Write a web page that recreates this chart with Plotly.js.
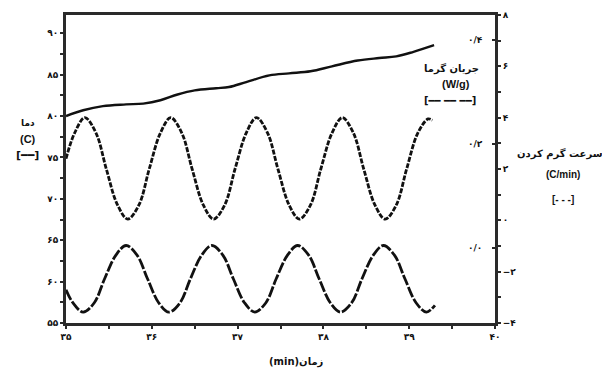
<!DOCTYPE html>
<html>
<head>
<meta charset="utf-8">
<script src="https://cdn.plot.ly/plotly-3.0.1.min.js"></script>
<style>html,body{margin:0;padding:0;background:#fff;}#chart{width:602px;height:369px;}</style>
</head>
<body>
<div id="chart"></div>
<script>
// Temperature (C) vs time (min)
const tempTime = [35.0, 35.2, 35.43, 35.7, 35.9, 36.1, 36.3, 36.5, 36.75, 36.9, 37.1, 37.37, 37.6, 37.85, 38.1, 38.4, 38.65, 38.85, 39.05, 39.29];
const tempValues = [80.0, 80.7, 81.2, 81.4, 81.5, 81.9, 82.6, 83.1, 83.35, 83.5, 84.1, 84.9, 85.15, 85.4, 86.0, 86.7, 87.0, 87.2, 87.75, 88.55];

// Heating rate (C/min) vs time
const rateTime = [35.00, 35.10, 35.22, 35.35, 35.47, 35.60, 35.72, 35.85, 35.97, 36.10, 36.22, 36.35, 36.47, 36.60, 36.72, 36.85, 36.97, 37.10, 37.22, 37.35, 37.47, 37.60, 37.72, 37.85, 37.97, 38.10, 38.22, 38.35, 38.47, 38.60, 38.72, 38.85, 38.97, 39.10, 39.22, 39.27];
const rateValues = [2.4, 3.4, 4.0, 3.4, 2.0, 0.6, 0.05, 0.6, 2.0, 3.4, 4.0, 3.4, 2.0, 0.6, 0.05, 0.6, 2.0, 3.4, 4.0, 3.4, 2.0, 0.6, 0.05, 0.6, 2.0, 3.4, 4.0, 3.4, 2.0, 0.6, 0.05, 0.6, 2.0, 3.4, 3.95, 3.9];

// Heat flow (W/g) vs time
const flowTime = [35.00, 35.08, 35.20, 35.33, 35.45, 35.58, 35.70, 35.83, 35.95, 36.08, 36.20, 36.33, 36.45, 36.58, 36.70, 36.83, 36.95, 37.08, 37.20, 37.33, 37.45, 37.58, 37.70, 37.83, 37.95, 38.08, 38.20, 38.33, 38.45, 38.58, 38.70, 38.83, 38.95, 39.08, 39.20, 39.30];
const flowValues = [-0.080, -0.105, -0.123, -0.105, -0.059, -0.014, 0.005, -0.014, -0.059, -0.105, -0.123, -0.105, -0.059, -0.014, 0.005, -0.014, -0.059, -0.105, -0.123, -0.105, -0.059, -0.014, 0.005, -0.014, -0.059, -0.105, -0.123, -0.105, -0.059, -0.014, 0.005, -0.014, -0.059, -0.105, -0.123, -0.110];

// Tick labels
const xTickVals = [35, 36, 37, 38, 39, 40];
const xTickText = ['۳۵', '۳۶', '۳۷', '۳۸', '۳۹', '۴۰'];
const tempTickVals = [55, 60, 65, 70, 75, 80, 85, 90];
const tempTickText = ['۵۵', '۶۰', '۶۵', '۷۰', '۷۵', '۸۰', '۸۵', '۹۰'];
const rateTickVals = [-4, -2, 0, 2, 4, 6, 8];
const rateTickText = ['−۴', '−۲', '۰', '۲', '۴', '۶', '۸'];
const flowTickVals = [0.0, 0.2, 0.4];
const flowTickText = ['۰/۰', '۰/۲', '۰/۴'];

const ink = '#111';
const axisCol = '#2a2a2a';
const tickFont = {family: 'DejaVu Sans', size: 9, color: '#111', weight: 'bold'};

const traces = [
  {x: tempTime, y: tempValues, type: 'scatter', mode: 'lines', yaxis: 'y',
   line: {color: ink, width: 2.4, shape: 'spline', smoothing: 1}},
  {x: rateTime, y: rateValues, type: 'scatter', mode: 'lines', yaxis: 'y2',
   line: {color: ink, width: 2.8, shape: 'spline', smoothing: 1, dash: '5px,1.5px'}},
  {x: flowTime, y: flowValues, type: 'scatter', mode: 'lines', yaxis: 'y3',
   line: {color: ink, width: 2.8, shape: 'spline', smoothing: 1, dash: '11px,2px'}}
];

const ann = (text, x, y, size, fam) => ({text, x, y, xref: 'paper', yref: 'paper', showarrow: false,
  xanchor: 'center', yanchor: 'middle', font: {family: fam || 'DejaVu Sans', size: size || 10, color: '#111', weight: 'bold'}});

// paper coords: plot area x 66..495 (width 429), y 15..323 (height 308)
const px = v => (v - 66) / 429;
const py = v => (323 - v) / 308;

const layout = {
  width: 602, height: 369,
  margin: {l: 66, r: 107, t: 15, b: 46},
  paper_bgcolor: '#fff', plot_bgcolor: '#fff',
  showlegend: false,
  xaxis: {range: [35, 40], tickvals: xTickVals, ticktext: xTickText, tickfont: tickFont,
    showline: true, linecolor: axisCol, linewidth: 3, mirror: true,
    ticks: 'outside', ticklen: 3, tickwidth: 2, tickcolor: axisCol,
    minor: {dtick: 0.5, tick0: 35, ticks: 'outside', ticklen: 3, tickwidth: 2, tickcolor: axisCol},
    showgrid: false, zeroline: false, fixedrange: true},
  yaxis: {range: [55, 92.2], tickvals: tempTickVals, ticktext: tempTickText, tickfont: tickFont,
    showline: true, linecolor: axisCol, linewidth: 3,
    ticks: 'outside', ticklen: 3, tickwidth: 2, tickcolor: axisCol,
    minor: {dtick: 2.5, tick0: 55, ticks: 'outside', ticklen: 3, tickwidth: 2, tickcolor: axisCol},
    showgrid: false, zeroline: false, fixedrange: true},
  yaxis2: {range: [-4, 8], overlaying: 'y', side: 'right', anchor: 'x',
    tickvals: rateTickVals, ticktext: rateTickText, tickfont: tickFont,
    showline: true, linecolor: axisCol, linewidth: 3,
    ticks: 'outside', ticklen: 3, tickwidth: 2, tickcolor: axisCol,
    minor: {dtick: 1, tick0: -4, ticks: 'outside', ticklen: 3, tickwidth: 2, tickcolor: axisCol},
    showgrid: false, zeroline: false, fixedrange: true},
  yaxis3: {range: [-0.144, 0.448], overlaying: 'y', side: 'left', anchor: 'free', position: 1,
    tickvals: flowTickVals, ticktext: flowTickText, tickfont: tickFont, ticklabelstandoff: 8,
    showline: false, ticks: 'outside', ticklen: 3, tickwidth: 2, tickcolor: axisCol,
    showgrid: false, zeroline: false, fixedrange: true},
  annotations: [
    ann('دما', px(28), py(123), 9),
    ann('(C)', px(28), py(139), 11, 'Liberation Sans'),
    ann('[━━]', px(27), py(155), 11),
    ann('جریان گرما', px(451), py(68), 10),
    ann('(W/g)', px(456), py(84), 11, 'Liberation Sans'),
    ann('[━━ ━━ ━━]', px(450), py(100), 10),
    ann('سرعت گرم کردن', px(560), py(153), 10),
    ann('(C/min)', px(563), py(175), 10, 'Liberation Sans'),
    ann('[- - -]', px(563), py(199), 10, 'Liberation Sans'),
    ann('(min)زمان', px(296), py(362), 10)
  ]
};

Plotly.newPlot('chart', traces, layout, {displayModeBar: false, staticPlot: true});
</script>
</body>
</html>
